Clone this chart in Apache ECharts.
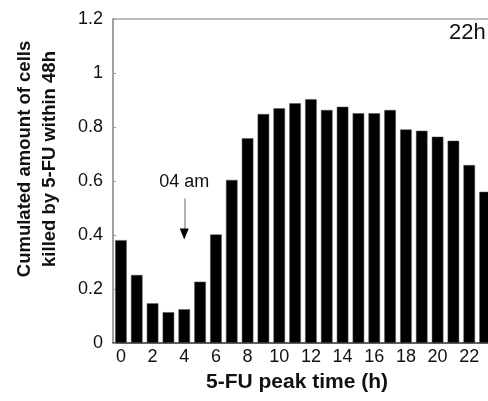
<!DOCTYPE html>
<html>
<head>
<meta charset="utf-8">
<script src="https://cdn.jsdelivr.net/npm/echarts@6/dist/echarts.min.js"></script>
<style>html,body{margin:0;padding:0;background:#fff}#c{width:488px;height:401px}</style>
</head>
<body>
<div id="c"></div>
<script>
const hours = ['0','1','2','3','4','5','6','7','8','9','10','11','12','13','14','15','16','17','18','19','20','21','22','23'];
const killed = [0.381,0.252,0.147,0.114,0.125,0.227,0.402,0.604,0.758,0.848,0.869,0.888,0.903,0.863,0.875,0.851,0.851,0.863,0.791,0.786,0.764,0.749,0.659,0.560];
const yTicks = [0, 0.2, 0.4, 0.6, 0.8, 1, 1.2];
const arrowHour = '4';
const arrowFrom = 0.535;
const arrowTo = 0.382;
const arrowLabelY = 0.596;
const arrowLabel = '04 am';
const cornerText = '22h';
const xTitle = '5-FU peak time (h)';
const yTitle = 'Cumulated amount of cells\nkilled by 5-FU within 48h';

const font = 'Arial, "Liberation Sans", Helvetica, sans-serif';
const chart = echarts.init(document.getElementById('c'), null, {renderer: 'canvas'});
chart.setOption({
  animation: false,
  backgroundColor: '#fff',
  grid: {left: 113, top: 19, width: 380, height: 324, outerBoundsMode: 'none', containLabel: false, show: true, borderColor: '#a8a8a8', borderWidth: 1.5, backgroundColor: 'transparent'},
  xAxis: {
    type: 'category', data: hours,
    axisLine: {lineStyle: {color: '#444', width: 1.5}},
    axisTick: {show: false},
    axisLabel: {interval: 1, fontSize: 18, color: '#111', fontFamily: font, margin: 5}
  },
  yAxis: {
    type: 'value', min: yTicks[0], max: yTicks[yTicks.length - 1], interval: 0.2,
    axisLine: {show: true, lineStyle: {color: '#999', width: 1.5}},
    axisTick: {show: true, inside: true, length: 3, lineStyle: {color: '#999'}},
    splitLine: {show: false},
    axisLabel: {fontSize: 18, color: '#111', fontFamily: font, margin: 10}
  },
  series: [{
    type: 'bar', data: killed, barCategoryGap: '27%',
    itemStyle: {color: '#000', borderColor: '#555', borderWidth: 0.5},
    markLine: {
      silent: true, symbol: ['none', 'none'],
      lineStyle: {color: '#999', width: 1.5, type: 'solid'},
      label: {show: false},
      data: [[{coord: [arrowHour, arrowFrom]}, {coord: [arrowHour, arrowTo + 0.03]}]]
    },
    markPoint: {
      silent: true,
      data: [
        {coord: [arrowHour, arrowTo + 0.022], symbol: 'triangle', symbolSize: [9, 11], symbolRotate: 180, itemStyle: {color: '#000'}, label: {show: false}},
        {coord: [arrowHour, arrowLabelY], symbol: 'rect', symbolSize: 1, itemStyle: {color: 'transparent'},
         label: {show: true, position: 'inside', formatter: arrowLabel, fontSize: 18, color: '#111', fontFamily: font}}
      ]
    }
  }],
  graphic: [
    {type: 'text', x: 297, y: 382, style: {text: xTitle, font: 'bold 21px ' + font, fill: '#111', align: 'center', verticalAlign: 'middle'}},
    {type: 'text', x: 37, y: 159, rotation: Math.PI / 2, style: {text: yTitle, font: 'bold 18.5px ' + font, fill: '#111', align: 'center', verticalAlign: 'middle', lineHeight: 25}},
    {type: 'text', x: 449, y: 33, style: {text: cornerText, font: '22px ' + font, fill: '#111', align: 'left', verticalAlign: 'middle'}}
  ]
});
</script>
</body>
</html>
